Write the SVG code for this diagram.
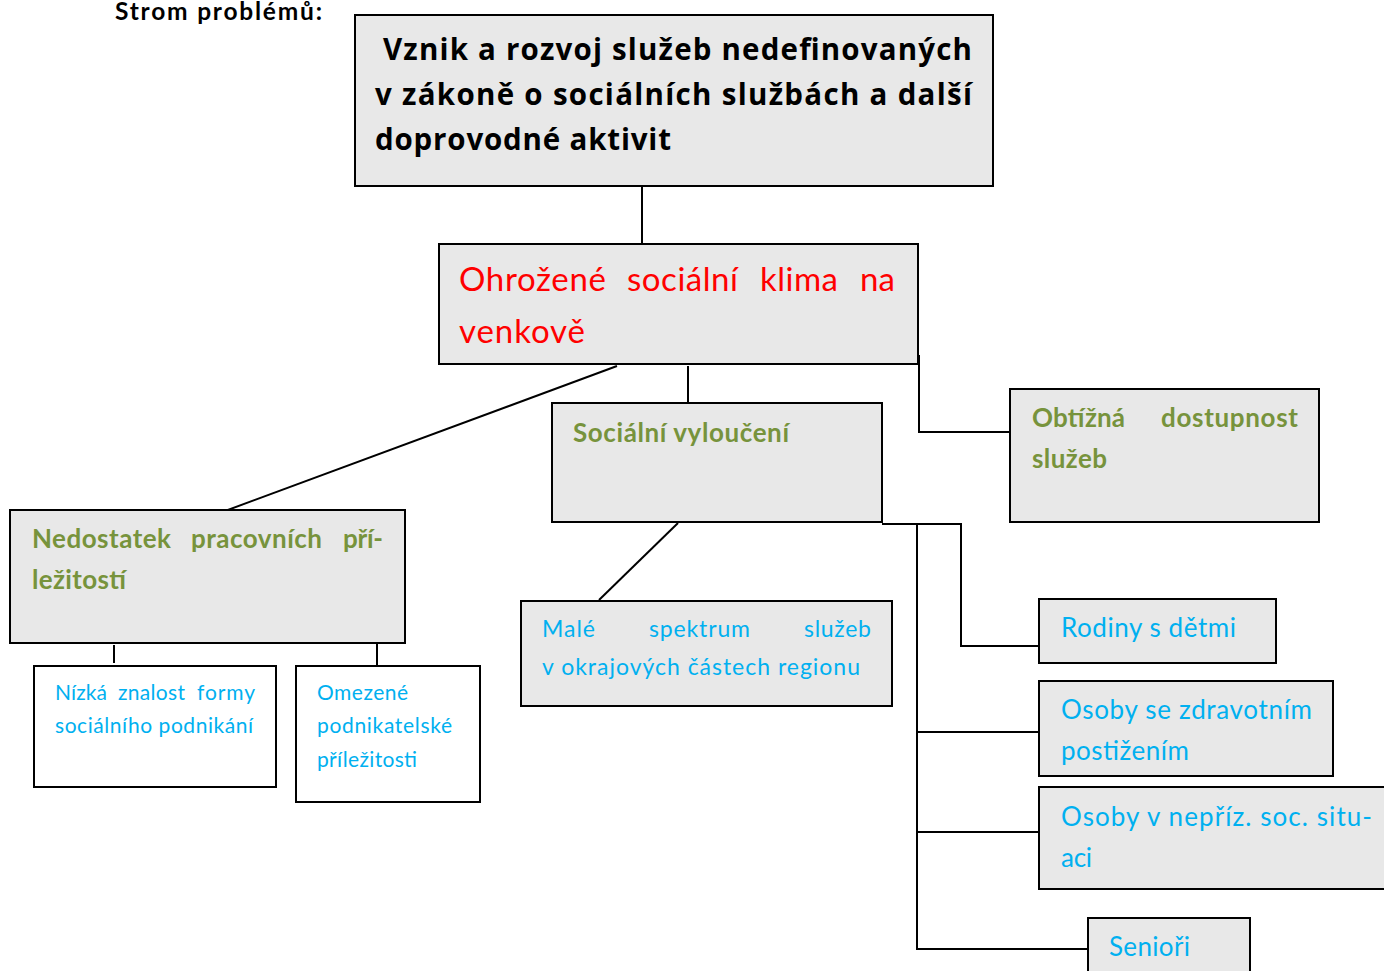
<svg xmlns="http://www.w3.org/2000/svg" width="1384" height="971" viewBox="0 0 1384 971">
<style>
.box{fill:#e8e8e8;stroke:#000;stroke-width:2}
.wbox{fill:#fff;stroke:#000;stroke-width:2}
.ln{fill:none;stroke:#000;stroke-width:2}
text{font-family:Lato,"Open Sans","Liberation Sans",sans-serif}
.title{font-family:"Open Sans",Lato,sans-serif;font-weight:bold;font-size:29.5px;fill:#000}
.red{font-size:33px;fill:#ff0000}
.green{font-weight:bold;font-size:26px;fill:#77933c}
.blue{fill:#00b0f0}
.b21{font-size:21px}
.b22{font-size:23px}
.b26{font-size:26px}
</style>
<rect width="1384" height="971" fill="#fff"/>
<text x="115" y="20" font-family="'Open Sans',Lato,sans-serif" font-weight="bold" font-size="24.5" fill="#000" textLength="207">Strom problémů:</text>
<g id="connectors">
<line class="ln" x1="642" y1="186" x2="642" y2="244"/>
<line class="ln" x1="617" y1="366" x2="225" y2="511"/>
<line class="ln" x1="688" y1="366" x2="688" y2="403"/>
<polyline class="ln" points="919,355 919,432 1010,432"/>
<line class="ln" x1="114" y1="645" x2="114" y2="663"/>
<line class="ln" x1="377" y1="643" x2="377" y2="666"/>
<line class="ln" x1="678" y1="523" x2="599" y2="600"/>
<polyline class="ln" points="882,524 961,524 961,646 1039,646"/>
<polyline class="ln" points="917,524 917,949 1088,949"/>
<line class="ln" x1="917" y1="732" x2="1039" y2="732"/>
<line class="ln" x1="917" y1="832" x2="1039" y2="832"/>
</g>
<g id="n1">
<rect class="box" x="355" y="15" width="638" height="171"/>
<text class="title" x="383" y="60" textLength="589">Vznik a rozvoj služeb nedefinovaných</text>
<text class="title" x="375" y="105" textLength="597">v zákoně o sociálních službách a další</text>
<text class="title" x="375" y="150" textLength="296">doprovodné aktivit</text>
</g>
<g id="n2">
<rect class="box" x="439" y="244" width="479" height="120"/>
<text class="red" y="291"><tspan x="459" textLength="147">Ohrožené</tspan><tspan x="627" textLength="111">sociální</tspan><tspan x="760" textLength="78">klima</tspan><tspan x="860" textLength="35">na</tspan></text>
<text class="red" x="459" y="343" textLength="126">venkově</text>
</g>
<g id="n3">
<rect class="box" x="552" y="403" width="330" height="119"/>
<text class="green" x="573" y="442" textLength="216">Sociální vyloučení</text>
</g>
<g id="n4">
<rect class="box" x="1010" y="389" width="309" height="133"/>
<text class="green" y="427"><tspan x="1032" textLength="93">Obtížná</tspan><tspan x="1161" textLength="137">dostupnost</tspan></text>
<text class="green" x="1032" y="468" textLength="75">služeb</text>
</g>
<g id="n5">
<rect class="box" x="10" y="510" width="395" height="133"/>
<text class="green" y="548"><tspan x="32" textLength="139">Nedostatek</tspan><tspan x="191" textLength="131">pracovních</tspan><tspan x="343" textLength="40">pří-</tspan></text>
<text class="green" x="32" y="589" textLength="94">ležitostí</text>
</g>
<g id="n6">
<rect class="wbox" x="34" y="666" width="242" height="121"/>
<text class="blue b21" y="700"><tspan x="55" textLength="52">Nízká</tspan><tspan x="118" textLength="67">znalost</tspan><tspan x="197" textLength="58">formy</tspan></text>
<text class="blue b21" x="55" y="733" textLength="198">sociálního podnikání</text>
</g>
<g id="n7">
<rect class="wbox" x="296" y="666" width="184" height="136"/>
<text class="blue b21" x="317" y="700" textLength="91">Omezené</text>
<text class="blue b21" x="317" y="733" textLength="135">podnikatelské</text>
<text class="blue b21" x="317" y="767" textLength="100">příležitosti</text>
</g>
<g id="n8">
<rect class="box" x="521" y="601" width="371" height="105"/>
<text class="blue b22" y="637"><tspan x="542" textLength="53">Malé</tspan><tspan x="649" textLength="101">spektrum</tspan><tspan x="804" textLength="67">služeb</tspan></text>
<text class="blue b22" x="542" y="675" textLength="318">v okrajových  částech regionu</text>
</g>
<g id="n9">
<rect class="box" x="1039" y="599" width="237" height="64"/>
<text class="blue b26" x="1061" y="637" textLength="175">Rodiny s dětmi</text>
</g>
<g id="n10">
<rect class="box" x="1039" y="681" width="294" height="95"/>
<text class="blue b26" x="1061" y="719" textLength="251">Osoby se zdravotním</text>
<text class="blue b26" x="1061" y="760" textLength="128">postižením</text>
</g>
<g id="n11">
<rect class="box" x="1039" y="787" width="360" height="102"/>
<text class="blue b26" x="1061" y="826" textLength="311">Osoby v nepříz. soc. situ-</text>
<text class="blue b26" x="1061" y="867" textLength="31">aci</text>
</g>
<g id="n12">
<rect class="box" x="1088" y="918" width="162" height="70"/>
<text class="blue b26" x="1109" y="956" textLength="81">Senioři</text>
</g>
</svg>
